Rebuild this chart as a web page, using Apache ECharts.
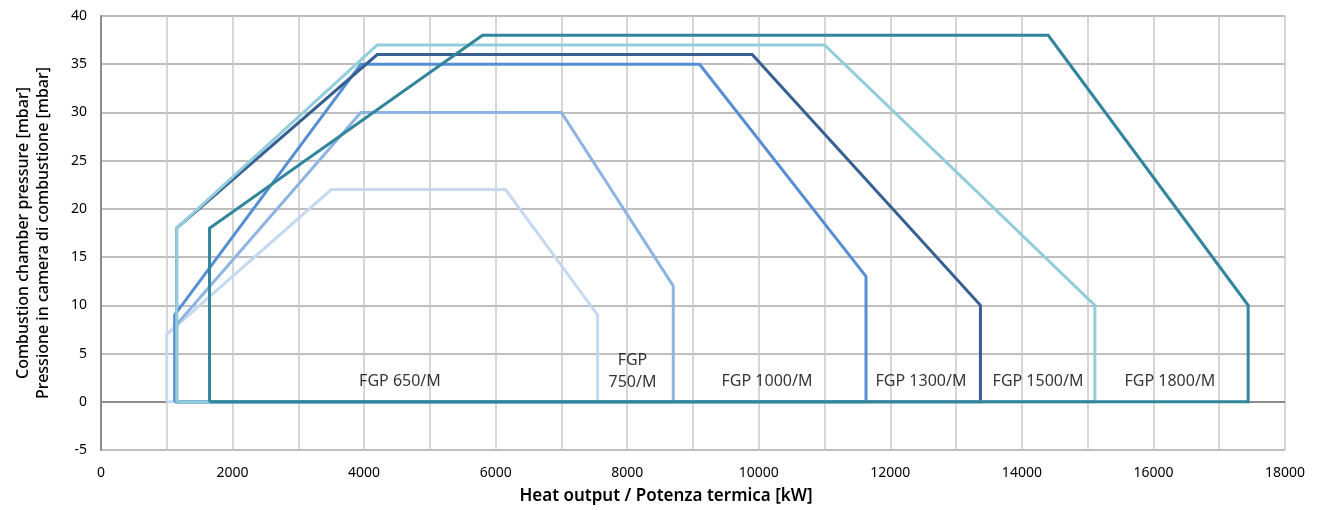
<!DOCTYPE html>
<html>
<head>
<meta charset="utf-8">
<script src="https://cdn.jsdelivr.net/npm/echarts@6/dist/echarts.min.js"></script>
<style>
html,body{margin:0;padding:0;background:#fff;}
#chart{width:1319px;height:510px;}
</style>
</head>
<body>
<div id="chart"></div>
<script>
// Series names
const seriesNames = ['FGP 650/M', 'FGP 750/M', 'FGP 1000/M', 'FGP 1300/M', 'FGP 1500/M', 'FGP 1800/M'];

// Working-field polygons: [heat output kW, pressure mbar]
const fgp650  = [[1000,0],[1000,7],[3500,22],[6150,22],[7550,9],[7550,0],[1000,0]];
const fgp750  = [[1150,0],[1150,8],[3950,30],[7000,30],[8700,12],[8700,0],[1150,0]];
const fgp1000 = [[1120,0],[1120,9],[3950,35],[9100,35],[11630,13],[11630,0],[1120,0]];
const fgp1300 = [[1150,0],[1150,18],[4200,36],[9900,36],[13370,10],[13370,0],[1150,0]];
const fgp1500 = [[1150,0],[1150,18],[4200,37],[11000,37],[15110,10],[15110,0],[1150,0]];
const fgp1800 = [[1650,0],[1650,18],[5800,38],[14400,38],[17440,10],[17440,0],[1650,0]];

// In-chart labels (data coordinates)
const labelTexts = ['FGP 650/M', 'FGP\n750/M', 'FGP 1000/M', 'FGP 1300/M', 'FGP 1500/M', 'FGP 1800/M'];
const labelX = [4545, 8080, 10125, 12466, 14245, 16251];
const labelY = [2.1, 3.1, 2.1, 2.1, 2.1, 2.1];

const colors = ['#C5D9F1', '#8DB4E2', '#558ED5', '#366092', '#92CDDC', '#31859C'];
const allData = [fgp650, fgp750, fgp1000, fgp1300, fgp1500, fgp1800];

const FONT = 'Noto Sans';

const lineSeries = allData.map((d, i) => ({
  name: seriesNames[i],
  type: 'line',
  data: d,
  symbol: 'none',
  lineStyle: { color: colors[i], width: 3, join: 'miter' },
  itemStyle: { color: colors[i] },
  z: 3 + i,
  silent: true,
  animation: false
}));

// zero line
lineSeries[0].markLine = {
  silent: true,
  symbol: 'none',
  label: { show: false },
  lineStyle: { color: '#8c8c8c', width: 2, type: 'solid' },
  data: [{ yAxis: 0 }],
  z: 1
};

const labelSeries = {
  type: 'scatter',
  data: labelX.map((x, i) => ({ value: [x, labelY[i]], name: labelTexts[i] })),
  symbolSize: 0,
  z: 20,
  silent: true,
  animation: false,
  label: {
    show: true,
    position: 'inside',
    formatter: p => p.name,
    color: '#000000',
    fontFamily: FONT,
    fontSize: 16,
    lineHeight: 22,
    align: 'center',
    verticalAlign: 'middle'
  }
};

const chart = echarts.init(document.getElementById('chart'), null, { renderer: 'canvas' });
chart.setOption({
  animation: false,
  backgroundColor: '#ffffff',
  grid: { left: 101, right: 34, top: 16, bottom: 52, containLabel: false },
  xAxis: {
    type: 'value',
    min: 0, max: 18000, interval: 1000,
    name: 'Heat output / Potenza termica [kW]',
    nameLocation: 'middle',
    nameGap: 38,
    nameTextStyle: { fontFamily: FONT, fontSize: 17, fontWeight: 600, color: '#000000', padding: [0, 54, 0, 0] },
    axisLine: { onZero: false, show: false },
    axisTick: { show: false },
    axisLabel: {
      fontFamily: FONT, fontSize: 14, color: '#000000', margin: 16,
      formatter: v => (v % 2000 === 0 ? String(v) : '')
    },
    splitLine: { show: true, lineStyle: { color: '#c8c8c8', width: 1.5 } }
  },
  yAxis: {
    type: 'value',
    min: -5, max: 40, interval: 5,
    name: 'Combustion chamber pressure [mbar]\nPressione in camera di combustione [mbar]',
    nameLocation: 'middle',
    nameGap: 48,
    nameRotate: 90,
    nameTextStyle: { fontFamily: FONT, fontSize: 16, fontWeight: 500, color: '#000000', lineHeight: 20 },
    axisLine: { show: true, lineStyle: { color: '#8c8c8c', width: 2 } },
    axisTick: { show: false },
    axisLabel: { fontFamily: FONT, fontSize: 14, color: '#000000', margin: 14 },
    splitLine: { show: true, lineStyle: { color: '#a8a8a8', width: 1.5 } }
  },
  series: [...lineSeries, labelSeries]
});
</script>
</body>
</html>
